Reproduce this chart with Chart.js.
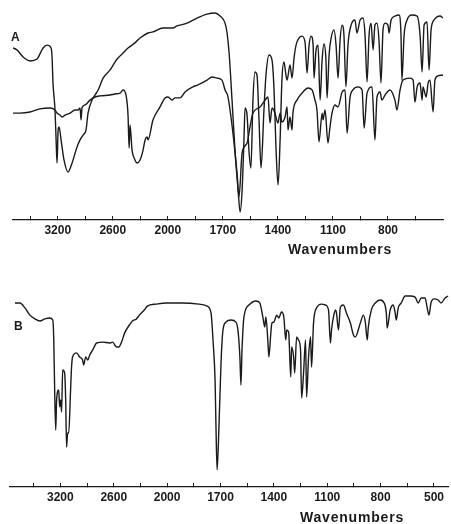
<!DOCTYPE html>
<html>
<head>
<meta charset="utf-8">
<script src="https://cdn.jsdelivr.net/npm/chart.js@4.4.0/dist/chart.umd.min.js"></script>
<style>
  html, body { margin: 0; padding: 0; background: #fff; }
  #wrap { position: relative; width: 451px; height: 524px; overflow: hidden; }
  canvas { position: absolute; left: 0; }
  #chartA { top: 0; }
  #chartB { top: 262px; }
  .lbl { position: absolute; font-family: "Liberation Sans", Arial, sans-serif; font-weight: bold; color: #1a1a1a; line-height: 1; white-space: nowrap; }
</style>
</head>
<body>
<div id="wrap">
  <canvas id="chartA" width="451" height="262"></canvas>
  <canvas id="chartB" width="451" height="262"></canvas>
  <div class="lbl" style="left:11px;top:31px;font-size:12px">A</div>
  <div class="lbl" style="left:14px;top:320px;font-size:12px">B</div>
  <div class="lbl" style="left:288px;top:242px;font-size:14px;letter-spacing:0.8px">Wavenumbers</div>
  <div class="lbl" style="left:300px;top:510px;font-size:14px;letter-spacing:0.8px">Wavenumbers</div>
</div>

<script>
// ---------------------------------------
// IR spectra, panel A (two traces) and B
// values: [wavenumber cm-1, transmittance %]
// ---------------------------------------

const specA1 = [
  [3688,78.2],[3644,77.3],[3578,74.1],[3502,72.3],[3426,73.2],[3360,78.2],[3317,79.5],[3273,78.2],[3262,74.1],
  [3252,62.3],[3230,50],[3218,36.4],[3208,25.9],[3196,40.9],[3186,42.3],[3164,36.4],[3132,27.3],[3088,21.8],
  [3044,25.9],[2990,33.2],[2957,36.4],[2924,38.6],[2892,40.9],[2870,48.6],[2826,54.5],[2794,56.8],[2760,59.1],
  [2706,64.5],[2630,68.2],[2576,71.8],[2543,73.6],[2488,75.9],[2434,78.2],[2358,80.5],[2303,82.7],[2216,85],
  [2162,85.5],[2052,87.3],[1972,87.3],[1950,88.2],[1895,89.5],[1841,91.8],[1786,93.6],[1743,94.1],[1715,92.7],
  [1688,89.5],[1677,85],[1666,75.9],[1650,54.5],[1634,31.8],[1617,13.6],[1606,3.6],[1595,13.6],[1585,36.4],
  [1579,50.9],[1568,47.7],[1558,31.8],[1547,23.6],[1536,54.5],[1525,67.3],[1514,65.9],[1503,45.5],[1492,23.6],
  [1476,50],[1465,65.9],[1448,75],[1432,72.7],[1421,59.1],[1410,31.8],[1399,15.9],[1388,36.4],[1378,63.6],
  [1367,71.8],[1356,65.9],[1350,63.6],[1334,70.5],[1323,64.5],[1312,73.6],[1301,79.5],[1285,82.7],[1269,83.6],
  [1252,80.9],[1241,66.8],[1230,79.5],[1219,83.6],[1208,79.5],[1203,64.5],[1192,77.3],[1181,79.5],[1170,54.5],
  [1159,72.7],[1149,80],[1138,72.7],[1132,55.5],[1121,75],[1110,82.7],[1094,86.4],[1083,79.5],[1072,64.5],
  [1061,81.8],[1050,88.6],[1040,84.1],[1029,60.5],[1018,79.5],[1001,88.6],[980,90.9],[969,85],[952,90.9],
  [936,91.8],[925,84.1],[914,62.7],[903,84.1],[892,89.5],[881,77.3],[871,88.6],[860,89.5],[849,81.8],
  [838,62.3],[827,86.4],[816,89.5],[800,88.6],[794,85],[783,90.9],[762,92.7],[740,93.2],[729,84.1],
  [724,63.6],[712,84.1],[696,90.9],[669,93.2],[641,92.7],[625,84.1],[614,67.3],[603,88.6],[587,90],
  [576,68.2],[565,86.4],[549,90.9],[533,92.3],[516,92.7],[500,91.8]
];

const specA2 = [
  [3688,48.6],[3611,48.6],[3502,49.1],[3393,50.5],[3284,50.9],[3230,50],[3208,48.6],[3175,47.7],[3154,46.8],
  [3120,47.7],[3066,48.6],[3012,50],[2979,50],[2957,50.9],[2946,45.5],[2936,50.9],[2902,52.3],[2848,54.5],
  [2794,55.9],[2739,56.4],[2630,56.8],[2576,57.3],[2521,57.7],[2488,59.1],[2456,56.8],[2434,47.7],[2422,32.7],
  [2412,43.2],[2390,31.8],[2358,27.3],[2336,25.9],[2303,27.3],[2270,31.8],[2248,36.4],[2226,37.7],[2216,36.4],
  [2162,45.5],[2085,51.4],[2030,55.5],[1999,55.9],[1977,54.5],[1961,55.5],[1933,55.5],[1906,58.2],[1863,60.5],
  [1836,61.4],[1786,63.6],[1759,65],[1732,64.5],[1705,63.6],[1688,59.1],[1672,55.9],[1645,39.5],[1623,21.4],
  [1612,10.5],[1595,30.5],[1568,35],[1552,42.3],[1536,48.6],[1497,51.4],[1470,54.5],[1454,55.9],[1443,44.1],
  [1432,50.9],[1416,48.6],[1400,44.1],[1388,48.6],[1378,44.5],[1361,46.8],[1350,51.4],[1345,40.9],[1334,46.8],
  [1323,40.9],[1318,48.6],[1296,54.5],[1263,58.2],[1236,60],[1214,59.1],[1198,54.5],[1187,50],[1176,35.5],
  [1159,48.6],[1154,45.5],[1143,50],[1127,35],[1116,42.3],[1105,48.6],[1089,52.3],[1072,51.4],[1050,58.2],
  [1034,59.1],[1023,39.5],[1007,55.5],[991,59.1],[963,60.5],[941,59.1],[930,41.8],[914,57.7],[887,60.5],
  [871,36.4],[860,55.9],[843,58.2],[833,54.5],[816,56.8],[789,59.1],[762,54.5],[751,50],[734,59.1],
  [718,63.6],[680,64.5],[663,63.6],[653,53.6],[641,60.5],[625,62.3],[614,54.5],[609,60.5],[592,55.9],
  [581,62.3],[571,63.6],[554,49.1],[544,63.6],[527,65.5],[500,65.9]
];

const specB = [
  [3710,81.8],[3654,81.8],[3598,79.6],[3542,76.4],[3486,74.7],[3430,73.8],[3374,74.7],[3320,75.1],[3285,74.2],
  [3274,65.3],[3264,43.1],[3252,25.3],[3242,38.7],[3218,43.1],[3208,35.6],[3196,38.7],[3186,33.3],[3174,52],
  [3152,50.7],[3140,38.7],[3130,17.8],[3118,24],[3106,24],[3085,43.1],[3074,53.3],[3063,57.8],[3018,59.6],
  [2984,57.8],[2950,56.4],[2938,54.2],[2915,57.8],[2892,56.4],[2870,58.7],[2836,60.9],[2792,64],[2725,64.4],
  [2646,64],[2613,64.4],[2568,62.2],[2545,62.2],[2512,64.4],[2478,68.4],[2424,72],[2390,73.8],[2345,74.7],
  [2312,76.4],[2256,78.7],[2222,80.4],[2122,81.3],[2010,81.8],[1915,81.8],[1820,81.3],[1775,80.4],[1753,77.3],
  [1742,65.3],[1730,46.2],[1725,25.3],[1719,7.6],[1708,28.4],[1697,55.1],[1686,69.8],[1669,73.3],[1641,74.2],
  [1613,73.3],[1602,69.8],[1591,57.8],[1585,45.3],[1579,60.9],[1568,75.6],[1540,80.9],[1501,82.7],[1479,81.8],
  [1462,75.6],[1451,71.1],[1445,75.6],[1434,65.3],[1428,57.8],[1417,68.4],[1411,72.9],[1400,73.3],[1389,75.6],
  [1384,76.4],[1372,75.1],[1361,77.3],[1356,77.8],[1344,75.6],[1333,65.3],[1328,69.8],[1317,68.9],[1305,48.9],
  [1300,62.2],[1289,57.8],[1283,50.7],[1272,66.7],[1261,65.3],[1250,60.9],[1244,39.6],[1233,50.7],[1222,65.3],
  [1216,40],[1205,57.8],[1194,66.7],[1188,53.3],[1177,72.9],[1160,79.6],[1132,81.3],[1110,80.9],[1093,78.7],
  [1082,64],[1076,69.8],[1065,75.6],[1054,78.7],[1048,77.3],[1037,69.8],[1026,80],[1009,80.9],[992,77.3],
  [970,72.9],[953,67.6],[942,66.7],[914,72.9],[897,76.4],[886,73.3],[875,65.3],[869,71.1],[852,78.7],
  [830,81.8],[802,83.1],[780,81.8],[768,77.3],[763,70.7],[746,78.7],[729,80.9],[718,77.3],[712,74.2],
  [701,79.6],[684,81.8],[662,84.9],[634,84.9],[606,84.4],[589,81.8],[572,84],[550,84],[539,80],
  [528,76.4],[517,81.8],[500,83.6],[477,83.1],[460,81.8],[438,84],[421,84.9]
];

const majorTicksA = [3200, 2600, 2000, 1700, 1400, 1100, 800];
const majorTicksB = [3200, 2600, 2000, 1700, 1400, 1100, 800, 500];
const minorTicks = [3500, 2900, 2300, 1850, 1550, 1250, 950, 650];

// grating change at 2000: above it the chart is compressed 2x
function toU(w) { return w >= 2000 ? (4000 - w) / 2 : 1000 + (2000 - w); }
function toW(u) { return u <= 1000 ? 4000 - 2 * u : 3000 - u; }

const ink = "#1a1a1a";
const fontFamily = '"Liberation Sans", Arial, sans-serif';

function makeChart(id, series, uMin, uMax, majors, padLeft, padRight, axisHeight) {

    const datasets = series.map(s => ({
        data: s.map(p => ({ x: toU(p[0]), y: p[1] })),
        borderColor: ink,
        borderWidth: 1.4,
        pointRadius: 0,
        cubicInterpolationMode: "monotone",
        fill: false
    }));

    const tickList = majors.concat(minorTicks);

    new Chart(document.getElementById(id), {
        type: "line",
        data: { datasets: datasets },
        options: {
            responsive: false,
            animation: false,
            devicePixelRatio: 1,
            events: [],
            layout: { padding: { left: padLeft, right: padRight, top: 0, bottom: 0 } },
            plugins: { legend: { display: false }, tooltip: { enabled: false } },
            scales: {
                x: {
                    type: "linear",
                    min: uMin,
                    max: uMax,
                    afterBuildTicks: (scale) => {
                        scale.ticks = tickList.map(w => ({ value: toU(w) }))
                            .sort((a, b) => a.value - b.value);
                    },
                    afterFit: (scale) => { scale.height = axisHeight; },
                    ticks: {
                        autoSkip: false,
                        maxRotation: 0,
                        padding: 7,
                        color: ink,
                        font: { family: fontFamily, size: 12, weight: "bold" },
                        callback: (v) => {
                            const w = Math.round(toW(v));
                            return majors.includes(w) ? String(w) : "";
                        }
                    },
                    grid: { drawOnChartArea: false, drawTicks: true, tickLength: -4, color: ink, lineWidth: 1 },
                    border: { display: true, color: ink, width: 1.3 }
                },
                y: { display: false, min: 0, max: 100 }
            }
        }
    });
}

makeChart("chartA", [specA1, specA2], 156, 2500, majorTicksA, 13, 8, 42);
makeChart("chartB", [specB], 117, 2584, majorTicksB, 10, 0, 37);
</script>
</body>
</html>
